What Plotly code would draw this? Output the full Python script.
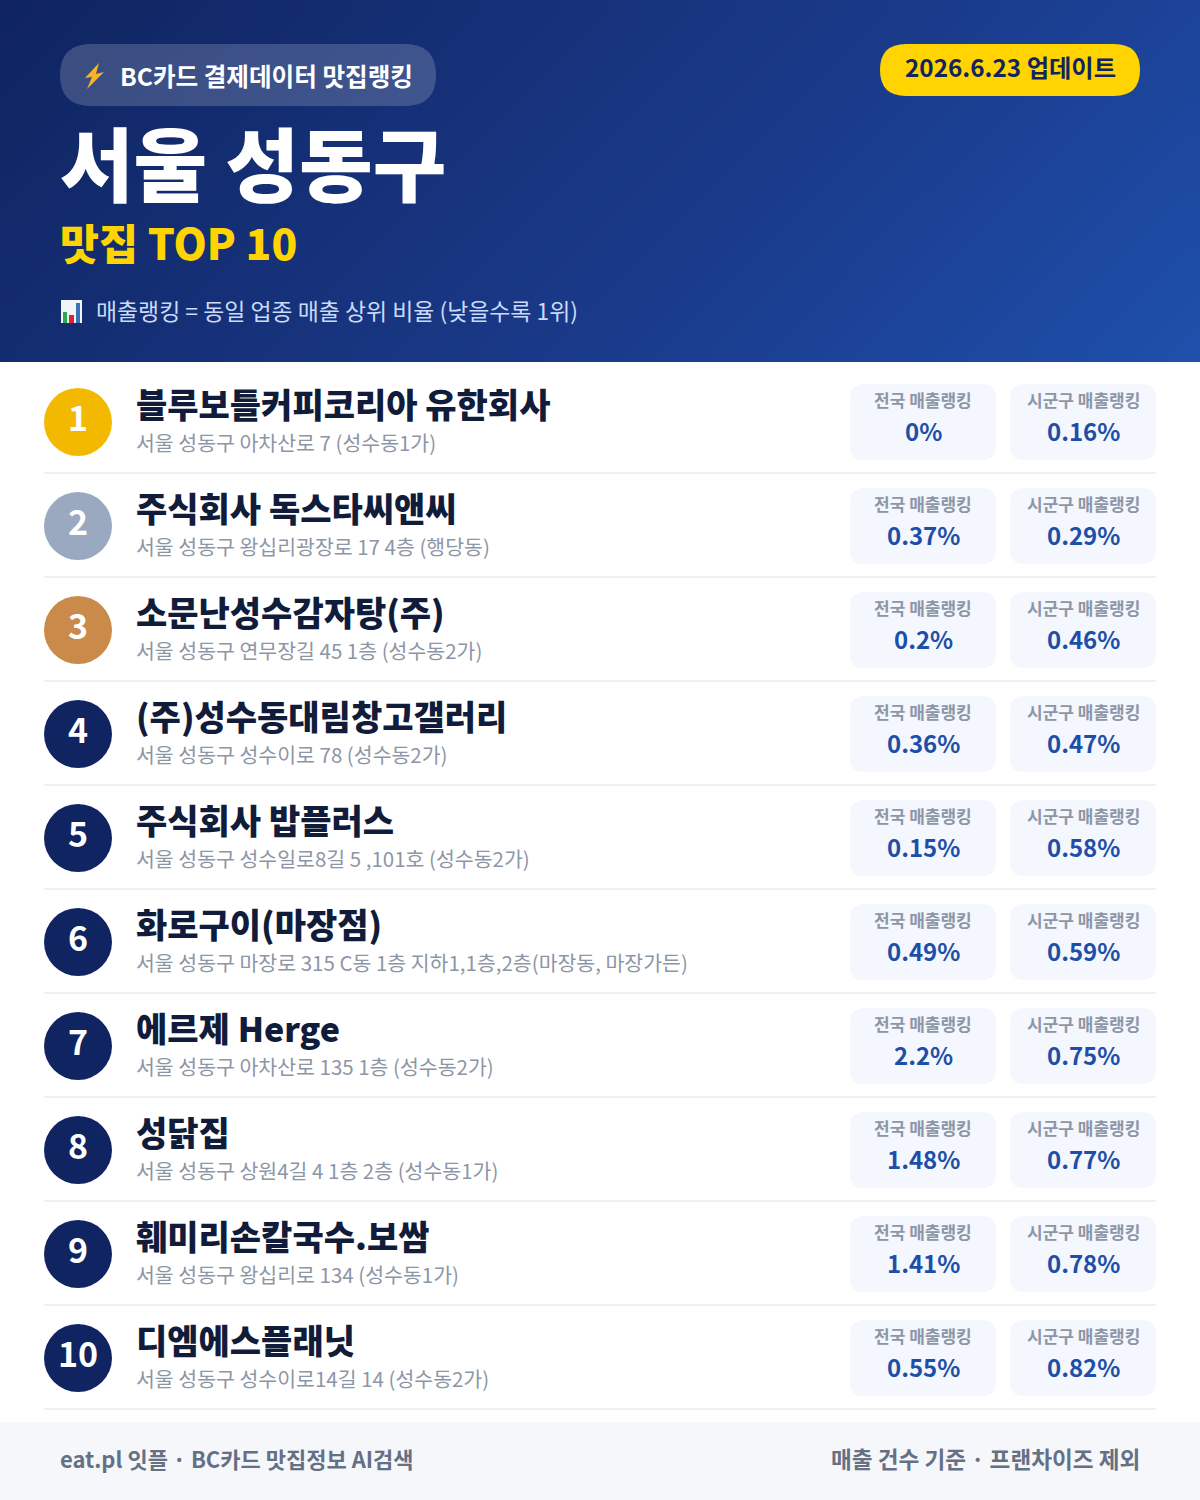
import plotly.graph_objects as go

ranks = [str(i) for i in range(1, 11)]
names = ["블루보틀커피코리아 유한회사", "주식회사 독스타씨앤씨", "소문난성수감자탕(주)", "(주)성수동대림창고갤러리",
         "주식회사 밥플러스", "화로구이(마장점)", "에르제 Herge", "성닭집", "훼미리손칼국수.보쌈", "디엠에스플래닛"]
addresses = ["서울 성동구 아차산로 7 (성수동1가)", "서울 성동구 왕십리광장로 17 4층 (행당동)",
             "서울 성동구 연무장길 45 1층 (성수동2가)", "서울 성동구 성수이로 78 (성수동2가)",
             "서울 성동구 성수일로8길 5 ,101호 (성수동2가)", "서울 성동구 마장로 315 C동 1층 지하1,1층,2층(마장동, 마장가든)",
             "서울 성동구 아차산로 135 1층 (성수동2가)", "서울 성동구 상원4길 4 1층 2층 (성수동1가)",
             "서울 성동구 왕십리로 134 (성수동1가)", "서울 성동구 성수이로14길 14 (성수동2가)"]
national = ["0%", "0.37%", "0.2%", "0.36%", "0.15%", "0.49%", "2.2%", "1.48%", "1.41%", "0.55%"]
district = ["0.16%", "0.29%", "0.46%", "0.47%", "0.58%", "0.59%", "0.75%", "0.77%", "0.78%", "0.82%"]
badge_colors = ["#f2b900", "#9aa8c0", "#c98a4a"] + ["#0f2460"] * 7

FONT = "Noto Sans CJK KR"
ROW = 104


def rounded(x0, y0, x1, y1, r):
    return (f"M{x0+r},{y0} L{x1-r},{y0} Q{x1},{y0} {x1},{y0+r} L{x1},{y1-r} Q{x1},{y1} {x1-r},{y1} "
            f"L{x0+r},{y1} Q{x0},{y1} {x0},{y1-r} L{x0},{y0+r} Q{x0},{y0} {x0+r},{y0} Z")


def label(x, y, text, size, color, weight=400, anchor="left"):
    return dict(x=x, y=y, xref="x", yref="y", text=text, showarrow=False, xanchor=anchor, yanchor="middle",
                borderpad=0, borderwidth=0, font=dict(family=FONT, size=size, color=color, weight=weight))


shapes = []
notes = []

# header pills
shapes.append(dict(type="path", path=rounded(60, 44, 436, 106, 31), fillcolor="rgba(255,255,255,0.18)", line_width=0))
shapes.append(dict(type="path", path=rounded(880, 44, 1140, 96, 26), fillcolor="#ffd400", line_width=0))
# lightning
shapes.append(dict(type="path", path="M99,63 L85,78 L92,77 L87,89 L104,72 L96,74 Z", fillcolor="#f6b32c", line_width=0))
# chart icon
shapes.append(dict(type="rect", x0=61, x1=82, y0=300, y1=323, fillcolor="#f2f5f8", line_width=0))
shapes.append(dict(type="rect", x0=63, x1=67, y0=312, y1=323, fillcolor="#2aa84a", line_width=0))
shapes.append(dict(type="rect", x0=69, x1=74, y0=315, y1=323, fillcolor="#d8262c", line_width=0))
shapes.append(dict(type="rect", x0=76, x1=80, y0=303, y1=323, fillcolor="#3b6fb8", line_width=0))

notes.append(label(120, 75, "BC카드 결제데이터 맛집랭킹", 24.6, "#ffffff", 700))
notes.append(label(1010, 66, "2026.6.23 업데이트", 24.3, "#0f2460", 700, "center"))
notes.append(label(60, 160, "서울 성동구", 80, "#ffffff", 900))
notes.append(label(60, 241, "맛집 TOP 10", 42.4, "#ffd400", 900))
notes.append(label(96, 310, "매출랭킹 = 동일 업종 매출 상위 비율 (낮을수록 1위)", 22.9, "#c9dbf8"))

for i in range(len(names)):
    top = ROW * i
    shapes.append(dict(type="rect", x0=44, x1=1156, y0=472 + top, y1=474 + top, fillcolor="#eef0f3", line_width=0))
    for x0, x1 in ((850, 996), (1010, 1156)):
        shapes.append(dict(type="path", path=rounded(x0, 384 + top, x1, 460 + top, 14), fillcolor="#f4f7fd", line_width=0))
    notes.append(label(136, 403 + top, names[i], 34, "#111c3a", 900))
    notes.append(label(136, 442 + top, addresses[i], 20.5, "#8d96a6"))
    notes.append(label(923, 399.5 + top, "전국 매출랭킹", 17, "#8d96a6", 700, "center"))
    notes.append(label(1083, 399.5 + top, "시군구 매출랭킹", 17, "#8d96a6", 700, "center"))
    notes.append(label(923, 430 + top, national[i], 24, "#1e4fa8", 700, "center"))
    notes.append(label(1083, 430 + top, district[i], 24, "#1e4fa8", 700, "center"))

# footer
shapes.append(dict(type="rect", x0=0, x1=1200, y0=1422, y1=1500, fillcolor="#f5f7fb", line_width=0))
notes.append(label(60, 1458, "eat.pl 잇플 · BC카드 맛집정보 AI검색", 22, "#667085", 700))
notes.append(label(1140, 1458, "매출 건수 기준 · 프랜차이즈 제외", 22.6, "#667085", 700, "right"))

# header background, 135deg gradient
cols, rows = 60, 18
dx, dy = 1200 / cols, 362 / rows
grad = [[((c + 0.5) * dx + (r + 0.5) * dy) / 1562 for c in range(cols)] for r in range(rows)]
header = go.Heatmap(z=grad, x0=dx / 2, dx=dx, y0=dy / 2, dy=dy, zmin=0, zmax=1, zsmooth="best", showscale=False,
                    hoverinfo="skip", colorscale=[[0, "#0f2460"], [0.6, "#1a3a8a"], [1, "#1e50ab"]])

badges = go.Scatter(x=[78] * len(ranks), y=[422 + ROW * i for i in range(len(ranks))], mode="markers+text", text=ranks,
                    textposition="middle center", hoverinfo="skip",
                    marker=dict(size=68, color=badge_colors, line_width=0),
                    textfont=dict(family=FONT, size=34, color="#ffffff", weight=700))

fig = go.Figure(data=[header, badges])
fig.update_layout(width=1200, height=1500, margin=dict(l=0, r=0, t=0, b=0), showlegend=False,
                  paper_bgcolor="#ffffff", plot_bgcolor="#ffffff", shapes=shapes, annotations=notes,
                  xaxis=dict(range=[0, 1200], visible=False, fixedrange=True),
                  yaxis=dict(range=[1500, 0], visible=False, fixedrange=True))
fig.write_html("out.html", config=dict(displayModeBar=False),
               post_script="document.body.style.margin='0';")
